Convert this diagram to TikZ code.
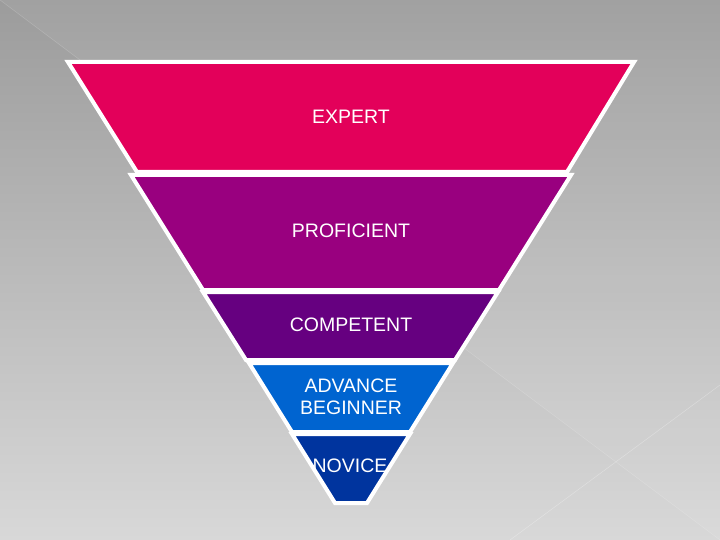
\documentclass[tikz,border=0pt]{standalone}
\usepackage{fontspec}
\setmainfont{Liberation Sans}
\definecolor{bgtop}{RGB}{156,156,156}
\definecolor{bgbot}{RGB}{216,216,216}
\definecolor{cexpert}{RGB}{227,0,90}
\definecolor{cprof}{RGB}{153,0,127}
\definecolor{ccomp}{RGB}{102,0,128}
\definecolor{cadv}{RGB}{0,100,208}
\definecolor{cnov}{RGB}{0,52,158}
\begin{document}
\begin{tikzpicture}[x=1pt,y=-1pt,
  band/.style={draw=white,line width=4pt,line join=miter},
  lbl/.style={text=white,font=\fontsize{19.5}{21.5}\selectfont,align=center,inner sep=0pt}]
\useasboundingbox (0,0) rectangle (720,540);
% background
\shade[top color=bgtop,bottom color=bgbot] (0,0) rectangle (720,540);
\fill[white,opacity=0.06] (0,0) -- (720,0) -- (720,540) -- cycle;
\draw[white,opacity=0.18,line width=0.5pt] (0,0) -- (720,540);
\draw[white,opacity=0.3,line width=0.5pt] (510,540) -- (720,385);
% bands
\filldraw[band,fill=cexpert] (68,62) -- (634,62) -- (567,172) -- (137,172) -- cycle;
\filldraw[band,fill=cprof] (131,175) -- (571,175) -- (499,290) -- (203,290) -- cycle;
\filldraw[band,fill=ccomp] (203,292) -- (498,292) -- (455,360) -- (246,360) -- cycle;
\filldraw[band,fill=cadv] (249,363) -- (453,363) -- (410,432) -- (292,432) -- cycle;
\filldraw[band,fill=cnov] (292,434) -- (410,434) -- (367,503) -- (335,503) -- cycle;
% labels
\node[lbl] (expert) at (351,117) {EXPERT};
\node[lbl] (prof) at (351,231) {PROFICIENT};
\node[lbl] (comp) at (351,325) {COMPETENT};
\node[lbl] (adv) at (351,397) {ADVANCE\\BEGINNER};
\node[lbl] (nov) at (350,466) {NOVICE};
\end{tikzpicture}
\end{document}
